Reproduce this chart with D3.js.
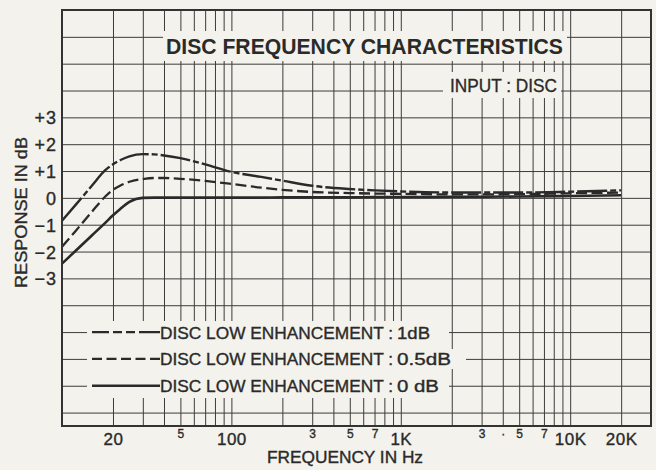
<!DOCTYPE html>
<html>
<head>
<meta charset="utf-8">
<script src="https://cdn.jsdelivr.net/npm/d3@7"></script>
<style>
  html, body { margin: 0; padding: 0; background: #f4f2ec; }
  svg { display: block; font-family: "Liberation Sans", Arial, sans-serif; }
  .grid line { stroke: #3c3c3c; stroke-width: 1; }
  .grid path { display: none; }
  .lbl path, .lbl line { display: none; }
  .lbl text { fill: #2a2a2a; font-family: "Liberation Sans", Arial, sans-serif; }
  .ink { stroke: #2a2a2a; stroke-width: 0.35; }
</style>
</head>
<body>
<div id="chart"></div>
<script>
// Frequencies (Hz) the curves were read at.
const freqs = [10, 12, 15, 18, 20, 22, 25, 30, 35, 40, 50, 70, 100, 150, 200, 300, 500, 700, 1000, 2000, 5000, 10000, 20000];

// Response in dB for each low enhancement setting.
const enh1dB  = [-0.85, -0.27, 0.45, 1.03, 1.25, 1.4, 1.55, 1.63, 1.62, 1.58, 1.48, 1.25, 0.97, 0.78, 0.64, 0.45, 0.33, 0.28, 0.24, 0.2, 0.2, 0.23, 0.28];
const enh05dB = [-1.82, -1.24, -0.52, 0.05, 0.3, 0.45, 0.6, 0.7, 0.74, 0.74, 0.71, 0.63, 0.52, 0.38, 0.3, 0.22, 0.18, 0.16, 0.15, 0.13, 0.14, 0.17, 0.2];
const enh0dB  = [-2.45, -1.98, -1.4, -0.93, -0.65, -0.42, -0.15, 0.0, 0.01, 0.01, 0.01, 0.01, 0.01, 0.01, 0.02, 0.02, 0.02, 0.03, 0.03, 0.04, 0.05, 0.07, 0.1];

// Tick labels.
const dbTicks = [3, 2, 1, 0, -1, -2, -3];
const bigFreqTicks = [20, 100, 1000, 10000, 20000];
const bigFreqLabels = ["20", "100", "1K", "10K", "20K"];
const smallFreqTicks = [50, 300, 500, 700, 3000, 4000, 5000, 7000];
const smallFreqLabels = ["5", "3", "5", "7", "3", "·", "5", "7"];

// Legend.
const legendNames = ["DISC LOW ENHANCEMENT :", "DISC LOW ENHANCEMENT :", "DISC LOW ENHANCEMENT :"];
const legendValues = ["1dB", "0.5dB", "0 dB"];

const width = 656, height = 470;
const margin = {top: 10, right: 5, bottom: 44, left: 62};
const w = width - margin.left - margin.right;
const h = height - margin.top - margin.bottom;
const paper = "#f4f2ec";
const ink = "#2a2a2a";

const x = d3.scaleLog().domain([10, 30000]).range([0, w]);
const y = d3.scaleLinear().domain([-8.5, 7]).range([h, 0]);

const svg = d3.select("#chart").append("svg")
  .attr("width", width)
  .attr("height", height);

svg.append("rect").attr("width", width).attr("height", height).attr("fill", paper);

const g = svg.append("g")
  .attr("transform", "translate(" + margin.left + "," + margin.top + ")");

// Vertical grid: every 1..9 x decade between the frame edges.
const gridFreqs = x.ticks().filter(d => d > 10 && d < 30000);
g.append("g")
  .attr("class", "grid")
  .attr("transform", "translate(0," + h + ")")
  .call(d3.axisBottom(x).tickValues(gridFreqs).tickSize(-h).tickFormat(""));

// Horizontal grid: one line per dB.
g.append("g")
  .attr("class", "grid")
  .call(d3.axisLeft(y).tickValues(d3.range(-8, 7)).tickSize(-w).tickFormat(""));

// Blank boxes behind the title, the input note and the legend (grid is broken there).
g.append("rect").attr("x", 163 - margin.left).attr("y", 31 - margin.top)
  .attr("width", 404).attr("height", 30).attr("fill", paper);
g.append("rect").attr("x", 443 - margin.left).attr("y", 72 - margin.top)
  .attr("width", 118).attr("height", 26).attr("fill", paper);
g.append("rect").attr("x", 87 - margin.left).attr("y", 321 - margin.top)
  .attr("width", 362).attr("height", 77).attr("fill", paper);
g.append("rect").attr("x", 440 - margin.left).attr("y", 349 - margin.top)
  .attr("width", 26).attr("height", 20).attr("fill", paper);

// Response curves.
const line = d3.line()
  .x(d => x(d[0]))
  .y(d => y(d[1]))
  .curve(d3.curveMonotoneX);

const series = [
  {values: enh1dB, dash: "30,3,6,3", width: 2.4, legendDash: "17,4,9,4,9,4,21"},
  {values: enh05dB, dash: "11,4.5", width: 2.3, legendDash: "10,4.5"},
  {values: enh0dB, dash: null, width: 2.6, legendDash: null}
];

series.forEach(s => {
  g.append("path")
    .datum(freqs.map((f, i) => [f, s.values[i]]))
    .attr("fill", "none")
    .attr("stroke", ink)
    .attr("stroke-width", s.width)
    .attr("stroke-dasharray", s.dash)
    .attr("d", line);
});

// Frame.
g.append("rect")
  .attr("width", w).attr("height", h)
  .attr("fill", "none")
  .attr("stroke", "#333")
  .attr("stroke-width", 2);

// Y tick labels.
const yLbl = g.append("g")
  .attr("class", "lbl")
  .call(d3.axisLeft(y).tickValues(dbTicks).tickSize(0).tickPadding(5)
    .tickFormat(d => d > 0 ? "+" + d : (d < 0 ? "\u2212" + Math.abs(d) : "0")));
yLbl.selectAll("text")
  .attr("class", "ink")
  .attr("font-size", 18)
  .attr("letter-spacing", 1)
  .attr("dy", "0.36em");

// X tick labels, large and small.
const xBig = g.append("g")
  .attr("class", "lbl")
  .attr("transform", "translate(0," + h + ")")
  .call(d3.axisBottom(x).tickValues(bigFreqTicks).tickSize(0)
    .tickFormat((d, i) => bigFreqLabels[i]));
xBig.selectAll("text")
  .attr("class", "ink")
  .attr("y", 18.5).attr("dy", null)
  .attr("font-size", 17)
  .attr("letter-spacing", 0.5);

const xSmall = g.append("g")
  .attr("class", "lbl")
  .attr("transform", "translate(0," + h + ")")
  .call(d3.axisBottom(x).tickValues(smallFreqTicks).tickSize(0)
    .tickFormat((d, i) => smallFreqLabels[i]));
xSmall.selectAll("text")
  .attr("class", "ink")
  .attr("y", 12).attr("dy", null)
  .attr("font-size", 12);

// Title and input note.
svg.append("text")
  .attr("x", 364.5).attr("y", 54)
  .attr("text-anchor", "middle")
  .attr("font-size", 22).attr("font-weight", "bold")
  .attr("textLength", 397).attr("lengthAdjust", "spacingAndGlyphs")
  .attr("fill", ink)
  .text("DISC FREQUENCY CHARACTERISTICS");

svg.append("text")
  .attr("class", "ink")
  .attr("x", 503.5).attr("y", 92)
  .attr("text-anchor", "middle")
  .attr("font-size", 19)
  .attr("textLength", 107).attr("lengthAdjust", "spacingAndGlyphs")
  .attr("fill", ink)
  .text("INPUT : DISC");

// Axis titles.
svg.append("text")
  .attr("class", "ink")
  .attr("transform", "translate(27,212.5) rotate(-90)")
  .attr("text-anchor", "middle")
  .attr("font-size", 16)
  .attr("textLength", 151).attr("lengthAdjust", "spacingAndGlyphs")
  .attr("fill", ink)
  .text("RESPONSE IN dB");

svg.append("text")
  .attr("class", "ink")
  .attr("x", 345).attr("y", 463)
  .attr("text-anchor", "middle")
  .attr("font-size", 16)
  .attr("textLength", 156).attr("lengthAdjust", "spacingAndGlyphs")
  .attr("fill", ink)
  .text("FREQUENCY IN Hz");

// Legend rows sit on the -5, -6 and -7 dB grid lines.
const legendRows = [-5, -6, -7];
const valueLengths = [33, 54, 42];
legendRows.forEach((dB, i) => {
  const ry = margin.top + y(dB);
  svg.append("line")
    .attr("x1", 92).attr("x2", 160)
    .attr("y1", ry).attr("y2", ry)
    .attr("stroke", ink)
    .attr("stroke-width", i == 2 ? 2.6 : 2.2)
    .attr("stroke-dasharray", series[i].legendDash);
  svg.append("text")
    .attr("class", "ink")
    .attr("x", 160).attr("y", ry + 6.5)
    .attr("font-size", 17)
    .attr("textLength", 233).attr("lengthAdjust", "spacingAndGlyphs")
    .attr("fill", ink)
    .text(legendNames[i]);
  svg.append("text")
    .attr("class", "ink")
    .attr("x", 397).attr("y", ry + 6.5)
    .attr("font-size", 17)
    .attr("textLength", valueLengths[i]).attr("lengthAdjust", "spacingAndGlyphs")
    .attr("fill", ink)
    .text(legendValues[i]);
});
</script>
</body>
</html>
